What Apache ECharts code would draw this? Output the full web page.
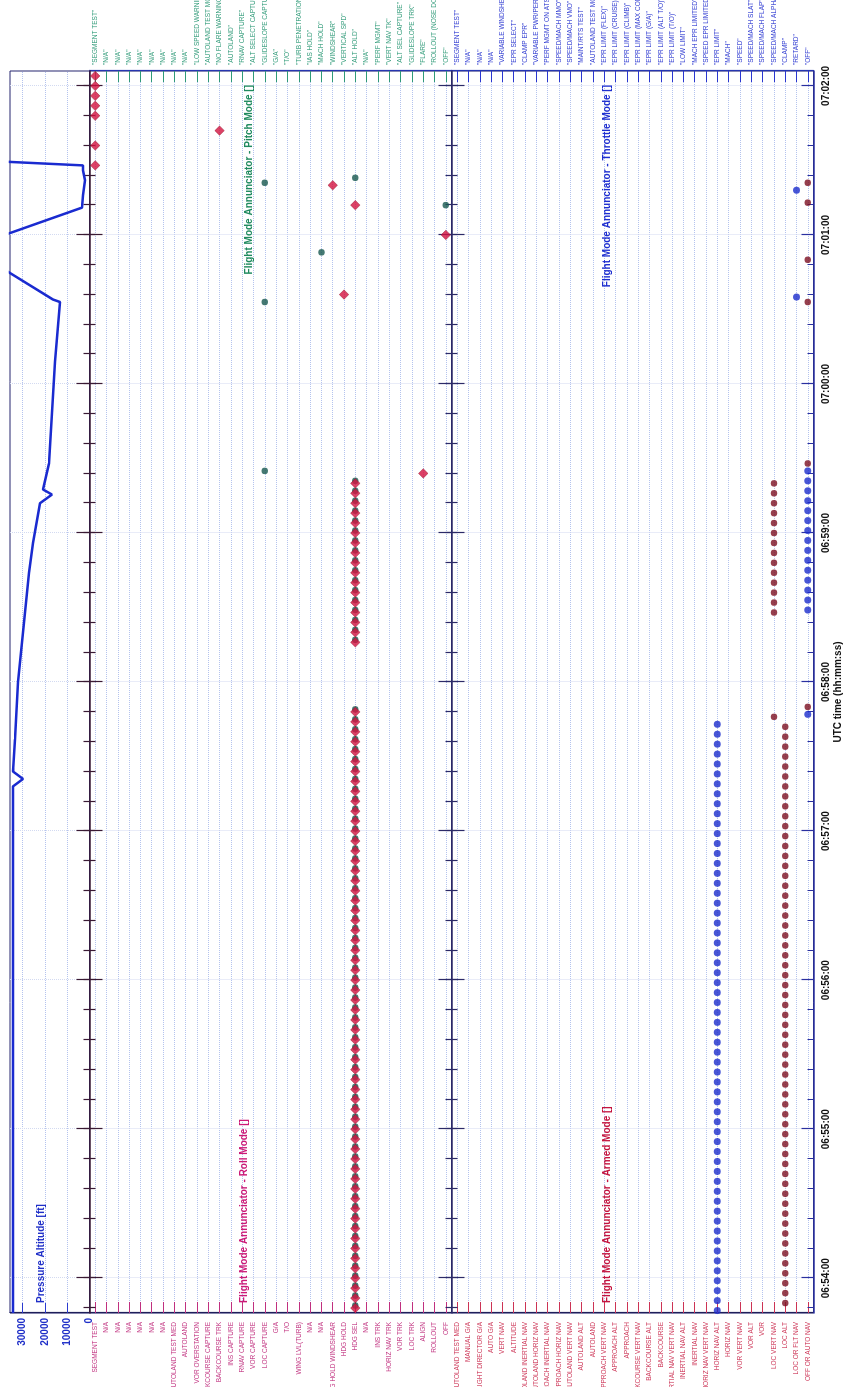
<!DOCTYPE html>
<html>
<head>
<meta charset="utf-8">
<script src="https://cdn.jsdelivr.net/npm/echarts@6/dist/echarts.min.js"></script>
<style>
  html, body { margin: 0; padding: 0; background: #ffffff; overflow: hidden; width: 845px; height: 1387px; }
  /* The strip chart is laid out landscape and turned a quarter turn counter-clockwise */
  #chart { position: absolute; left: 0; top: 0; width: 1387px; height: 845px;
           transform-origin: 0 0; transform: translate(0, 1387px) rotate(-90deg); }
</style>
</head>
<body>
<div id="chart"></div>
<script>
// ---------- time axis (seconds after 06:54:00) ----------
const timeLabels = ['06:54:00', '06:55:00', '06:56:00', '06:57:00', '06:58:00',
                    '06:59:00', '07:00:00', '07:01:00', '07:02:00'];

// ---------- pressure altitude trace [time s, ft] ----------
const altTime = [-14, 198, 201, 204, 217, 240, 264, 284, 296, 312, 315.5, 317.5, 328, 369, 393, 394,
                 406, 420, 431, 436, 442, 446, 448, 449.5, 486];
const altFeet = [34250, 34250, 29800, 34250, 33350, 32000, 29350, 27100, 25300, 22150, 16800, 20800,
                 18150, 15400, 13200, 16350, 38000, 38000, 3350, 2900, 2000, 2900, 2900, 38000, 38000];
const altTicks = [0, 10000, 20000, 30000];

// ---------- annunciator mode lists (level 0 first) ----------
const rollModes = ['SEGMENT TEST', 'N/A', 'N/A', 'N/A', 'N/A', 'N/A', 'N/A', 'AUTOLAND TEST MED', 'AUTOLAND',
  'VOR OVERSTATION', 'BACKCOURSE CAPTURE', 'BACKCOURSE TRK', 'INS CAPTURE', 'RNAV CAPTURE', 'VOR CAPTURE',
  'LOC CAPTURE', 'G/A', 'T/O', 'WING LVL(TURB)', 'N/A', 'N/A', 'HDG HOLD WINDSHEAR', 'HDG HOLD', 'HDG SEL',
  'N/A', 'INS TRK', 'HORIZ NAV TRK', 'VOR TRK', 'LOC TRK', 'ALIGN', 'ROLLOUT', 'OFF'];
const pitchModes = ['SEGMENT TEST', 'N/A', 'N/A', 'N/A', 'N/A', 'N/A', 'N/A', 'N/A', 'N/A',
  'LOW SPEED WARNING', 'AUTOLAND TEST MODE', 'NO FLARE WARNING', 'AUTOLAND', 'RNAV CAPTURE',
  'ALT SELECT CAPTURE', 'GLIDESLOPE CAPTURE', 'G/A', 'T/O', 'TURB PENETRATION', 'IAS HOLD', 'MACH HOLD',
  'WINDSHEAR', 'VERTICAL SPD', 'ALT HOLD', 'N/A', 'PERF MGMT', 'VERT NAV TK', 'ALT SEL CAPTURE',
  'GLIDESLOPE TRK', 'FLARE', 'ROLLOUT (NOSE DOWN)', 'OFF'];
const armedModes = ['AUTOLAND TEST MED', 'MANUAL G/A', 'FLIGHT DIRECTOR G/A', 'AUTO G/A', 'VERT NAV',
  'ALTITUDE', 'AUTOLAND INERTIAL NAV', 'AUTOLAND HORIZ NAV', 'APPROACH INERTIAL NAV', 'APPROACH HORIZ NAV',
  'AUTOLAND VERT NAV', 'AUTOLAND ALT', 'AUTOLAND', 'APPROACH VERT NAV', 'APPROACH ALT', 'APPROACH',
  'BACKCOURSE VERT NAV', 'BACKCOURSE ALT', 'BACKCOURSE', 'INERTIAL NAV VERT NAV', 'INERTIAL NAV ALT',
  'INERTIAL NAV', 'HORIZ NAV VERT NAV', 'HORIZ NAV ALT', 'HORIZ NAV', 'VOR VERT NAV', 'VOR ALT', 'VOR',
  'LOC VERT NAV', 'LOC ALT', 'LOC OR FLT NAV', 'OFF OR AUTO NAV'];
const throttleModes = ['SEGMENT TEST', 'N/A', 'N/A', 'N/A', 'VARIABLE WINDSHEAR', 'EPR SELECT', 'CLAMP EPR',
  'VARIABLE PWR/PERF', 'PERF MGMT ON ATS', 'SPEED/MACH MMO', 'SPEED/MACH VMO', 'MAINT/RTS TEST',
  'AUTOLAND TEST MODE', 'EPR LIMIT (FLEX)', 'EPR LIMIT (CRUISE)', 'EPR LIMIT (CLIMB)', 'EPR LIMIT (MAX CONT)',
  'EPR LIMIT (G/A)', 'EPR LIMIT (ALT T/O)', 'EPR LIMIT (T/O)', 'LOW LIMIT', 'MACH EPR LIMITED',
  'SPEED EPR LIMITED', 'EPR LIMIT', 'MACH', 'SPEED', 'SPEED/MACH SLAT', 'SPEED/MACH FLAP',
  'SPEED/MACH ALPHA', 'CLAMP', 'RETARD', 'OFF'];

// ---------- recorded samples: seconds after 06:54:00 ----------
// Roll mode
const rollHdgSel = [-12, -8, -4, 0, 4, 8, 12, 16, 20, 24, 28, 32, 36, 40, 44, 48, 52, 56, 60, 64, 68, 72, 76, 80,
  84, 88, 92, 96, 100, 104, 108, 112, 116, 120, 124, 128, 132, 136, 140, 144, 148, 152, 156, 160, 164, 168,
  172, 176, 180, 184, 188, 192, 196, 200, 204, 208, 212, 216, 220, 224, 228,
  256, 260, 264, 268, 272, 276, 280, 284, 288, 292, 296, 300, 304, 308, 312, 316, 320, 432];
const rollSegTest = [448, 456, 468, 472, 476, 480, 484];
const rollEvents = [[324, 'ALIGN'], [396, 'HDG HOLD'], [420, 'OFF'], [440, 'HDG HOLD WINDSHEAR'],
  [462, 'BACKCOURSE TRK']];
// Pitch mode
const pitchAltHold = [-11, -7, -3, 1, 5, 9, 13, 17, 21, 25, 29, 33, 37, 41, 45, 49, 53, 57, 61, 65, 69, 73, 77,
  81, 85, 89, 93, 97, 101, 105, 109, 113, 117, 121, 125, 129, 133, 137, 141, 145, 149, 153, 157, 161, 165,
  169, 173, 177, 181, 185, 189, 193, 197, 201, 205, 209, 213, 217, 221, 225, 229,
  257, 261, 265, 269, 273, 277, 281, 285, 289, 293, 297, 301, 305, 309, 313, 317, 321, 443];
const pitchEvents = [[325, 'GLIDESLOPE CAPTURE'], [393, 'GLIDESLOPE CAPTURE'], [413, 'MACH HOLD'],
  [432, 'OFF'], [441, 'GLIDESLOPE CAPTURE']];
// Armed mode
const armedLocAlt = [-10, -6, -2, 2, 6, 10, 14, 18, 22, 26, 30, 34, 38, 42, 46, 50, 54, 58, 62, 66, 70, 74, 78,
  82, 86, 90, 94, 98, 102, 106, 110, 114, 118, 122, 126, 130, 134, 138, 142, 146, 150, 154, 158, 162, 166,
  170, 174, 178, 182, 186, 190, 194, 198, 202, 206, 210, 214, 218, 222];
const armedLocVertNav = [226, 268, 272, 276, 280, 284, 288, 292, 296, 300, 304, 308, 312, 316, 320];
const armedOff = [230, 328, 393, 410, 433, 441];
// Throttle mode
const throttleEprLimit = [-13, -9, -5, -1, 3, 7, 11, 15, 19, 23, 27, 31, 35, 39, 43, 47, 51, 55, 59, 63, 67, 71,
  75, 79, 83, 87, 91, 95, 99, 103, 107, 111, 115, 119, 123, 127, 131, 135, 139, 143, 147, 151, 155, 159, 163,
  167, 171, 175, 179, 183, 187, 191, 195, 199, 203, 207, 211, 215, 219, 223];
const throttleOff = [227, 269, 273, 277, 281, 285, 289, 293, 297, 301, 305, 309, 313, 317, 321, 325];
const throttleRetard = [395, 438];

// ---------- helpers ----------
const toSec = s => { const p = s.split(':').map(Number); return p[0] * 3600 + p[1] * 60 + p[2]; };
const T0 = toSec(timeLabels[0]);
const majorVals = timeLabels.map(s => toSec(s) - T0);
const minorVals = [];
for (let v = majorVals[0] - 12; v <= majorVals[majorVals.length - 1] + 6; v += 12) minorVals.push(v);
const pad = n => String(n).padStart(2, '0');
const fmtTime = v => { const s = T0 + Math.round(v); return pad(Math.floor(s / 3600)) + ':' + pad(Math.floor(s / 60) % 60) + ':' + pad(s % 60); };
const levelIdx = list => list.map((_, i) => i);
const at = (times, list, name) => times.map(t => [t, list.indexOf(name)]);
const ev = (events, list) => events.map(e => [e[0], list.indexOf(e[1])]);

const FONT = '"Liberation Sans", Arial, sans-serif';
const T_MIN = -14, T_MAX = 486;
const GRID_DOT = '#b4c3ee';

// ---------- grids (landscape frame) ----------
const grids = [
  { left: 74, right: 71, top: 10, height: 79.5 },
  { left: 74, right: 71, top: 89.5, height: 362 },
  { left: 74, right: 71, top: 451.5, height: 362 }
].map(g => Object.assign({ show: true, borderColor: '#24246e', borderWidth: 1, backgroundColor: 'transparent',
                           containLabel: false, outerBoundsMode: 'none' }, g));

// time axes: one carrying the series, plus tick-only companions for the crossing ticks
const xAxes = [];
const mainX = [];
const axisLineColors = ['#3a1a34', '#2c2a68', '#2a30a0'];
grids.forEach((g, gi) => {
  const last = gi === 2;
  mainX.push(xAxes.length);
  xAxes.push({
    type: 'value', gridIndex: gi, position: 'bottom', min: T_MIN, max: T_MAX,
    axisLine: { show: true, onZero: false, lineStyle: { color: axisLineColors[gi], width: 1.5 } },
    axisTick: { show: last, inside: true, length: 6, customValues: minorVals, lineStyle: { color: '#2a30a0' } },
    axisLabel: { show: last, customValues: majorVals, formatter: fmtTime, margin: 8,
                 color: '#111111', fontWeight: 'bold', fontSize: 10, fontFamily: FONT },
    splitLine: { show: false },
    name: last ? 'UTC time (hh:mm:ss)' : '', nameLocation: 'middle', nameGap: 20,
    nameTextStyle: { color: '#111111', fontWeight: 'bold', fontSize: 10, fontFamily: FONT }
  });
  // minute ticks (and faint minute grid)
  xAxes.push({
    type: 'value', gridIndex: gi, position: 'bottom', min: T_MIN, max: T_MAX, offset: last ? 0 : -13,
    axisLine: { show: false, onZero: false },
    axisTick: { show: true, inside: last, length: last ? 12 : 26, customValues: majorVals,
                lineStyle: { color: axisLineColors[gi], width: 1.2 } },
    axisLabel: { show: false },
    splitLine: { show: true, lineStyle: { type: 'dotted', color: '#d3daf1', width: 1 } }
  });
  if (!last) {
    // 12-second ticks crossing the axis line
    xAxes.push({
      type: 'value', gridIndex: gi, position: 'bottom', min: T_MIN, max: T_MAX, offset: -6,
      axisLine: { show: false, onZero: false },
      axisTick: { show: true, inside: false, length: 12, customValues: minorVals,
                  lineStyle: { color: axisLineColors[gi], width: 1.2 } },
      axisLabel: { show: false },
      splitLine: { show: false }
    });
  }
});

function modeAxis(gi, position, modes, color, quoted, showSplit) {
  const ticks = levelIdx(modes);
  return {
    type: 'value', gridIndex: gi, position: position, inverse: true, min: -0.5, max: modes.length - 0.5,
    axisLine: { show: true, onZero: false, lineStyle: { color: position === 'left' ? '#1e1e5a' : '#2636b0', width: 1.2 } },
    axisTick: { show: true, inside: true, length: 11, customValues: ticks, lineStyle: { color: color } },
    axisLabel: { customValues: ticks, margin: position === 'left' ? 9 : 6, color: color, fontSize: 6.5,
                 fontFamily: FONT, formatter: v => quoted ? '"' + modes[v] + '"' : modes[v] },
    splitLine: { show: showSplit, lineStyle: { type: 'dotted', color: GRID_DOT, width: 1 } }
  };
}

const yAxes = [
  {
    type: 'value', gridIndex: 0, position: 'left', min: 0, max: 35600,
    axisLine: { show: true, onZero: false, lineStyle: { color: '#1e1e5a', width: 1.2 } },
    axisTick: { show: true, inside: true, length: 10, customValues: altTicks.slice(1), lineStyle: { color: '#2a3ad0' } },
    axisLabel: { customValues: altTicks, margin: 5, color: '#1f2fc8', fontWeight: 'bold', fontSize: 10,
                 fontFamily: FONT, formatter: v => String(v) },
    splitLine: { show: true, lineStyle: { type: 'dotted', color: GRID_DOT, width: 1 } }
  },
  modeAxis(1, 'left', rollModes, '#c0307f', false, true),
  modeAxis(1, 'right', pitchModes, '#2f9a78', true, false),
  modeAxis(2, 'left', armedModes, '#cc3355', false, true),
  modeAxis(2, 'right', throttleModes, '#2a36d0', true, false)
];

const titleFont = 'bold 10px ' + FONT;
const option = {
  animation: false,
  backgroundColor: '#ffffff',
  textStyle: { fontFamily: FONT },
  grid: grids,
  xAxis: xAxes,
  yAxis: yAxes,
  graphic: [
    { type: 'text', left: 84, top: 36, z: 10, style: { text: 'Pressure Altitude [ft]', fill: '#1f2fc8', font: titleFont } },
    { type: 'text', left: 84, top: 239, z: 10, style: { text: 'Flight Mode Annunciator - Roll Mode []', fill: '#cc1a77', font: titleFont } },
    { type: 'text', right: 85, top: 244, z: 10, style: { text: 'Flight Mode Annunciator - Pitch Mode []', fill: '#1f8a5f', font: titleFont } },
    { type: 'text', left: 84, top: 602, z: 10, style: { text: 'Flight Mode Annunciator - Armed Mode []', fill: '#c4143f', font: titleFont } },
    { type: 'text', right: 85, top: 602, z: 10, style: { text: 'Flight Mode Annunciator - Throttle Mode []', fill: '#1f2fd0', font: titleFont } }
  ],
  series: [
    {
      name: 'Pressure Altitude', type: 'line', xAxisIndex: mainX[0], yAxisIndex: 0,
      data: altTime.map((t, i) => [t, altFeet[i]]), showSymbol: false, clip: true,
      lineStyle: { color: '#1a2bd0', width: 2.5 }, z: 3
    },
    {
      name: 'Pitch Mode', type: 'scatter', xAxisIndex: mainX[1], yAxisIndex: 2,
      data: at(pitchAltHold, pitchModes, 'ALT HOLD').concat(ev(pitchEvents, pitchModes)),
      symbol: 'circle', symbolSize: 6.5, itemStyle: { color: '#17574f' }, z: 3
    },
    {
      name: 'Roll Mode', type: 'scatter', xAxisIndex: mainX[1], yAxisIndex: 1,
      data: at(rollHdgSel, rollModes, 'HDG SEL').concat(at(rollSegTest, rollModes, 'SEGMENT TEST'), ev(rollEvents, rollModes)),
      symbol: 'diamond', symbolSize: 9.5, itemStyle: { color: '#d3123f', borderColor: '#8a0a24', borderWidth: 0.5 }, z: 4
    },
    {
      name: 'Armed Mode', type: 'scatter', xAxisIndex: mainX[2], yAxisIndex: 3,
      data: at(armedLocAlt, armedModes, 'LOC ALT').concat(at(armedLocVertNav, armedModes, 'LOC VERT NAV'), at(armedOff, armedModes, 'OFF OR AUTO NAV')),
      symbol: 'circle', symbolSize: 6.5, itemStyle: { color: '#7c0f20' }, z: 3
    },
    {
      name: 'Throttle Mode', type: 'scatter', xAxisIndex: mainX[2], yAxisIndex: 4,
      data: at(throttleEprLimit, throttleModes, 'EPR LIMIT').concat(at(throttleOff, throttleModes, 'OFF'), at(throttleRetard, throttleModes, 'RETARD')),
      symbol: 'circle', symbolSize: 7, itemStyle: { color: '#1a2ccc' }, z: 4
    }
  ]
};

const chart = echarts.init(document.getElementById('chart'), null, { renderer: 'canvas', width: 1387, height: 845 });
chart.setOption(option);
</script>
</body>
</html>
